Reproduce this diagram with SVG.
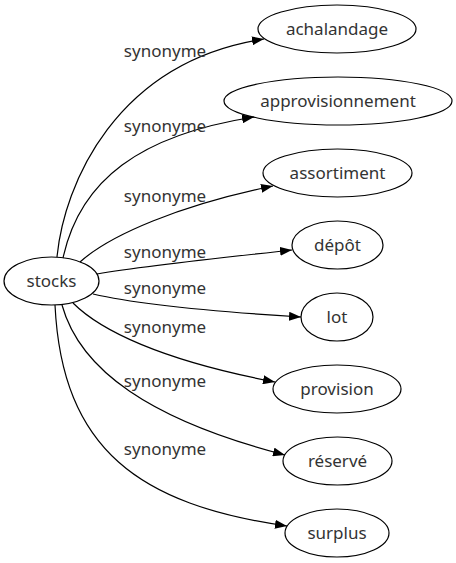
<svg xmlns="http://www.w3.org/2000/svg" width="456" height="563" viewBox="0 0 456 563">
<defs>
<style>
.node ellipse{fill:none;stroke:#000;stroke-width:1.2}
text{font-family:"Noto Sans","Open Sans","DejaVu Sans",sans-serif;font-size:17px;fill:#333;text-anchor:middle}
.edge path{fill:none;stroke:#000;stroke-width:1.2}
</style>
<marker id="arr" viewBox="0 0 12 9" refX="12" refY="4.5" markerWidth="12" markerHeight="9" markerUnits="userSpaceOnUse" orient="auto">
<path d="M0,0L12,4.5L0,9Z" fill="#000"/>
</marker>
</defs>
<rect width="456" height="563" fill="#fff"/>
<g id="edges" class="edge">
<path d="M57,257 C64,185 115,62 264,39" marker-end="url(#arr)"/>
<path d="M63,258 C80,180 140,135 254,117" marker-end="url(#arr)"/>
<path d="M80,262 C110,235 180,205 273,186" marker-end="url(#arr)"/>
<path d="M97,274 C150,265 230,257 292,250" marker-end="url(#arr)"/>
<path d="M93,294 C140,305 220,312 301,317" marker-end="url(#arr)"/>
<path d="M73,303 C100,330 160,360 275,382" marker-end="url(#arr)"/>
<path d="M62,305 C80,370 150,420 285,455" marker-end="url(#arr)"/>
<path d="M55,305 C62,450 140,505 287,526" marker-end="url(#arr)"/>
<text x="165" y="57">synonyme</text>
<text x="165" y="132">synonyme</text>
<text x="165" y="202">synonyme</text>
<text x="165" y="258">synonyme</text>
<text x="165" y="294">synonyme</text>
<text x="165" y="333">synonyme</text>
<text x="165" y="387">synonyme</text>
<text x="165" y="455">synonyme</text>
</g>
<g id="stocks" class="node"><ellipse cx="51.5" cy="281" rx="47.5" ry="24"/><text x="51.5" y="287">stocks</text></g>
<g id="achalandage" class="node"><ellipse cx="337" cy="29" rx="79" ry="24"/><text x="337" y="35">achalandage</text></g>
<g id="approvisionnement" class="node"><ellipse cx="338" cy="101" rx="114" ry="24"/><text x="338" y="107">approvisionnement</text></g>
<g id="assortiment" class="node"><ellipse cx="337.5" cy="173" rx="74.5" ry="24"/><text x="337.5" y="179">assortiment</text></g>
<g id="depot" class="node"><ellipse cx="337.5" cy="245" rx="45.5" ry="24"/><text x="337.5" y="251">dépôt</text></g>
<g id="lot" class="node"><ellipse cx="337" cy="317" rx="36" ry="24"/><text x="337" y="323">lot</text></g>
<g id="provision" class="node"><ellipse cx="337" cy="389" rx="64" ry="24"/><text x="337" y="395">provision</text></g>
<g id="reserve" class="node"><ellipse cx="337.5" cy="461" rx="54.5" ry="24"/><text x="337.5" y="467">réservé</text></g>
<g id="surplus" class="node"><ellipse cx="337" cy="533" rx="52" ry="24"/><text x="337" y="539">surplus</text></g>
</svg>
